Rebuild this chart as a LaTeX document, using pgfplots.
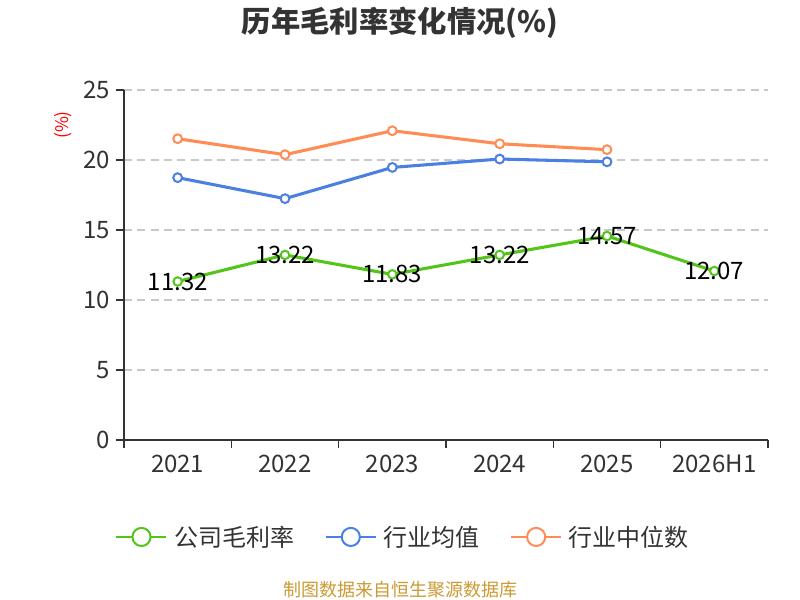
\documentclass[border=0pt]{standalone}
\usepackage{fontspec}
\setmainfont{Noto Sans CJK SC}
\usepackage{pgfplots}
\pgfplotsset{compat=1.18}
\definecolor{cgreen}{RGB}{82,196,26}
\definecolor{cblue}{RGB}{74,128,226}
\definecolor{corange}{RGB}{255,140,85}
\definecolor{ctext}{RGB}{51,51,51}
\definecolor{cgrid}{RGB}{200,200,200}
\definecolor{csrc}{RGB}{204,153,51}
\begin{document}
\begin{tikzpicture}[x=0.75pt,y=0.75pt]
\useasboundingbox (-124,-160) rectangle (676,440);
\begin{axis}[
  scale only axis, width=483pt, height=262.5pt,
  xmin=-0.5, xmax=5.5, ymin=0, ymax=25,
  axis lines*=left,
  axis line style={ctext, line width=1.5pt},
  xtick={0,1,2,3,4,5},
  xticklabels={2021,2022,2023,2024,2025,2026H1},
  minor xtick={-0.5,0.5,1.5,2.5,3.5,4.5,5.5},
  ytick={0,5,10,15,20,25},
  tick align=outside,
  major x tick style={draw=none},
  minor x tick style={ctext, line width=1.2pt},
  major y tick style={ctext, line width=1.2pt},
  minor tick length=6pt,
  major tick length=6pt,
  ymajorgrids,
  grid style={cgrid, line width=1.1pt, dash pattern=on 6pt off 4pt},
  tick label style={ctext, font=\fontsize{18}{21}\selectfont},
  /pgf/number format/assume math mode=true,
  xticklabel style={yshift=-2pt},
  yticklabel style={xshift=-1pt},
  legend columns=3,
  legend style={draw=none, at={(0.434,-0.277)}, anchor=center,
    font=\fontsize{18}{21}\selectfont, text=ctext,
    /tikz/every even column/.append style={column sep=21pt},
    /tikz/every odd column/.append style={column sep=3pt}},
  legend image code/.code={
    \draw[#1, line width=1.5pt] (0,0) -- (37.5pt,0);
    \draw[#1, fill=white, line width=1.5pt] (18.75pt,0) circle (6.8pt);
  },
]
\addplot[cgreen, line width=2.3pt, mark=*, mark size=3.2pt,
  mark options={fill=white, line width=1.5pt},
  nodes near coords, point meta=explicit symbolic,
  every node near coord/.append style={anchor=center, text=black, font=\fontsize{18}{21}\selectfont}]
  coordinates {(0,11.32)[11.32] (1,13.22)[13.22] (2,11.83)[11.83] (3,13.22)[13.22] (4,14.57)[14.57] (5,12.07)[12.07]};
\addlegendentry{公司毛利率}
\addplot[cblue, line width=2.3pt, mark=*, mark size=3.3pt,
  mark options={fill=white, line width=1.5pt}]
  coordinates {(0,18.74) (1,17.24) (2,19.47) (3,20.07) (4,19.87)};
\addlegendentry{行业均值}
\addplot[corange, line width=2.3pt, mark=*, mark size=3.3pt,
  mark options={fill=white, line width=1.5pt}]
  coordinates {(0,21.52) (1,20.38) (2,22.09) (3,21.16) (4,20.74)};
\addlegendentry{行业中位数}
\end{axis}
\node[font=\fontsize{22}{26}\selectfont\bfseries, text=ctext] at (276,417) {历年毛利率变化情况(\%)};
\node[rotate=90, text=red, font=\fontsize{13}{15}\selectfont] at (-61,315) {(\%)};
\node[text=csrc, font=\fontsize{13.5}{16}\selectfont] at (276,-150) {制图数据来自恒生聚源数据库};
\end{tikzpicture}
\end{document}
